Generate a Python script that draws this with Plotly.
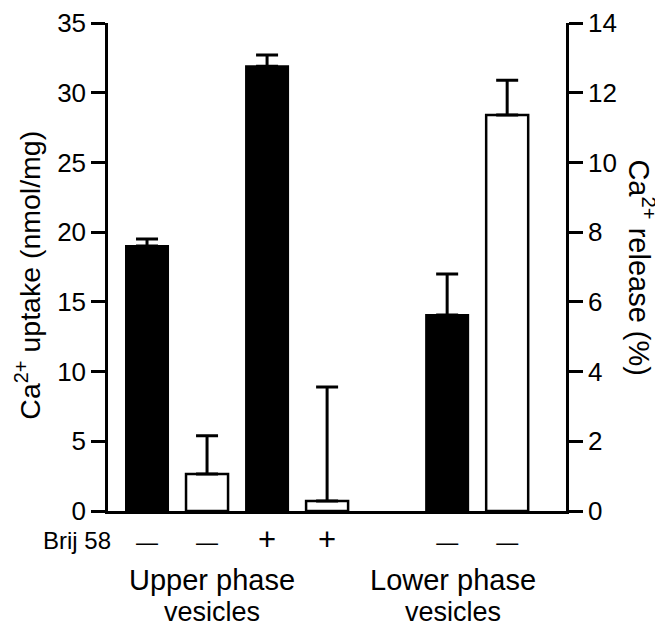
import plotly.graph_objects as go

# Data
positions_uptake = [0, 2, 5]
uptake = [19.0, 31.9, 14.05]
uptake_err = [0.5, 0.8, 2.95]

positions_release = [1, 3, 6]
release = [1.06, 0.29, 11.36]
release_err = [1.1, 3.27, 1.0]

brij_positions = [0, 1, 2, 3, 5, 6]
brij_signs = ["minus", "minus", "plus", "plus", "minus", "minus"]

group_line1 = ["Upper phase", "Lower phase"]
group_line2 = ["vesicles", "vesicles"]
group_positions = [1.08, 5.1]

left_ticks = [0, 5, 10, 15, 20, 25, 30, 35]
right_ticks = [0, 2, 4, 6, 8, 10, 12, 14]

FONT = "Arial, Liberation Sans, Helvetica, sans-serif"

SIGN_TEXT = {
    "minus": '<span style="font-size:22px">\u2014</span>',
    "plus": '<span style="font-size:31px">+</span>',
}
brij_ticktext = [SIGN_TEXT[s] for s in brij_signs]

fig = go.Figure()
fig.add_trace(go.Bar(
    x=positions_uptake, y=uptake, width=0.7, yaxis="y",
    marker=dict(color="black", line=dict(color="black", width=2)),
    error_y=dict(type="data", symmetric=False, array=uptake_err,
                 arrayminus=[0] * len(uptake_err), color="black",
                 thickness=3, width=11),
    showlegend=False,
))
fig.add_trace(go.Bar(
    x=positions_release, y=release, width=0.7, yaxis="y2",
    marker=dict(color="white", line=dict(color="black", width=2.5)),
    error_y=dict(type="data", symmetric=False, array=release_err,
                 arrayminus=[0] * len(release_err), color="black",
                 thickness=3, width=11),
    showlegend=False,
))

annotations = [
    dict(text="Brij 58", x=0.01, xref="paper", xanchor="right",
         y=-0.061, yref="paper", yanchor="middle", showarrow=False,
         font=dict(size=24, family=FONT, color="black")),
]
for l1, l2, pos in zip(group_line1, group_line2, group_positions):
    annotations.append(dict(text=l1, x=pos, xref="x", y=-0.141, yref="paper",
                            yanchor="middle", showarrow=False,
                            font=dict(size=29, family=FONT, color="black")))
    annotations.append(dict(text=l2, x=pos, xref="x", y=-0.206, yref="paper",
                            yanchor="middle", showarrow=False,
                            font=dict(size=27, family=FONT, color="black")))
annotations.append(dict(text="Ca<sup>2+</sup> uptake (nmol/mg)", textangle=-90,
                        x=-0.175, xref="paper", y=0.484, yref="paper",
                        xanchor="center", yanchor="middle", showarrow=False,
                        font=dict(size=28.5, family=FONT, color="black")))
annotations.append(dict(text="Ca<sup>2+</sup> release (%)", textangle=90,
                        x=1.165, xref="paper", y=0.498, yref="paper",
                        xanchor="center", yanchor="middle", showarrow=False,
                        font=dict(size=29, family=FONT, color="black")))

# The page body adds an 8px offset, so the figure is sized to fit the window.
fig.update_layout(
    width=655, height=619, autosize=False,
    margin=dict(l=100, r=97, t=15, b=116, autoexpand=False),
    paper_bgcolor="white", plot_bgcolor="white",
    barmode="overlay",
    font=dict(family=FONT, size=26, color="black"),
    xaxis=dict(range=[-0.65, 6.98], tickvals=brij_positions, ticktext=brij_ticktext,
               showline=True, linecolor="black", linewidth=2.5, ticks="",
               showgrid=False, zeroline=False, ticklabelstandoff=6,
               tickfont=dict(size=25)),
    yaxis=dict(range=[0, 35], tickvals=left_ticks, showline=True, linecolor="black",
               linewidth=2.5, ticks="outside", ticklen=14, tickwidth=2.5,
               tickcolor="black", showgrid=False, zeroline=False),
    yaxis2=dict(range=[0, 14], tickvals=right_ticks, overlaying="y", side="right",
                showline=True, linecolor="black", linewidth=2.5, ticks="outside",
                ticklen=14, tickwidth=2.5, tickcolor="black", showgrid=False,
                zeroline=False),
    annotations=annotations,
)

fig.write_html("out.html")
